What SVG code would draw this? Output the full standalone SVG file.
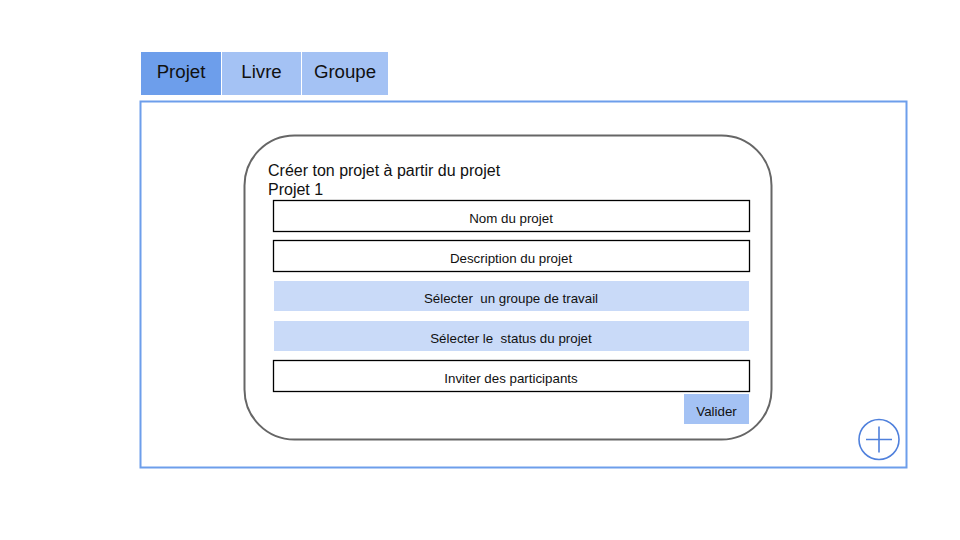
<svg xmlns="http://www.w3.org/2000/svg" width="960" height="540" viewBox="0 0 960 540">
<style>
text{font-family:"Liberation Sans",Arial,sans-serif;fill:#111;white-space:pre}
.tab{font-size:18.67px;text-anchor:middle}
.f{font-size:13.33px;text-anchor:middle}
.h{font-size:16px}
.o{fill:#fff;stroke:#000;stroke-width:1.3}
.b{fill:#c9daf8}
</style>
<rect width="960" height="540" fill="#fff"/>
<g id="panel"><rect x="140.500" y="101.500" width="766" height="366" fill="#fff" stroke="#6d9eeb" stroke-width="2"/></g>
<g id="tab-projet"><rect x="141" y="52" width="80" height="43" fill="#6d9eeb"/><text class="tab" x="181" y="77.500">Projet</text></g>
<g id="tab-livre"><rect x="222" y="52" width="79" height="43" fill="#a4c2f4"/><text class="tab" x="261.500" y="77.500">Livre</text></g>
<g id="tab-groupe"><rect x="302" y="52" width="86" height="43" fill="#a4c2f4"/><text class="tab" x="345" y="77.500">Groupe</text></g>
<g id="card"><rect x="244.500" y="135.500" width="527" height="304" rx="50" ry="50" fill="#fff" stroke="#666" stroke-width="2"/>
<text class="h" x="268" y="175.500">Créer ton projet à partir du projet</text><text class="h" x="268" y="194.500">Projet 1</text></g>
<g id="nom"><rect class="o" x="273.500" y="200.500" width="476" height="31"/><text class="f" x="511" y="222.500">Nom du projet</text></g>
<g id="description"><rect class="o" x="273.500" y="240.500" width="476" height="31"/><text class="f" x="511" y="262.500">Description du projet</text></g>
<g id="groupe"><rect class="b" x="274" y="281" width="475" height="30"/><text class="f" x="511" y="302.500">Sélecter  un groupe de travail</text></g>
<g id="status"><rect class="b" x="274" y="321" width="475" height="30"/><text class="f" x="511" y="342.500">Sélecter le  status du projet</text></g>
<g id="inviter"><rect class="o" x="273.500" y="360.500" width="476" height="31"/><text class="f" x="511" y="382.500">Inviter des participants</text></g>
<g id="valider"><rect x="684" y="394" width="65" height="30" fill="#a4c2f4"/><text class="f" x="716.500" y="415.500">Valider</text></g>
<g id="add" fill="none" stroke="#4f80dc" stroke-width="1.600"><circle cx="879" cy="439.500" r="20"/><path d="M866 439.500H892M879 426.500V452.500"/></g>
<g id="connectors"></g>
</svg>
